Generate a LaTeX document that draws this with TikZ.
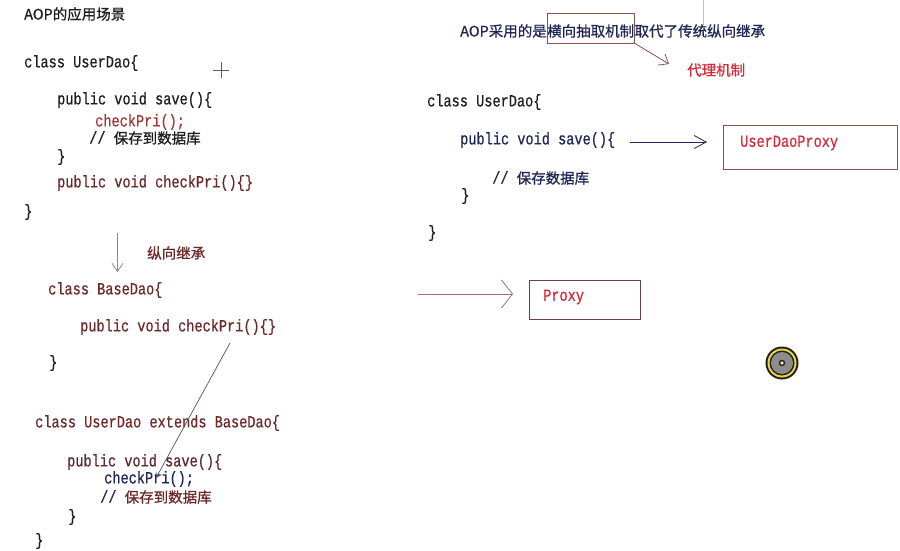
\documentclass[tikz,border=0pt]{standalone}
\usepackage{fontspec}
\setmonofont[FakeStretch=0.8,FakeBold=0.5]{Liberation Mono}
\newfontfamily\cjk[FakeBold=0.8]{Noto Sans CJK SC}
\usetikzlibrary{arrows.meta,fit}
\definecolor{ink}{HTML}{1E1E1E}
\definecolor{navyink}{HTML}{1F2656}
\definecolor{maroon}{HTML}{6E2828}
\definecolor{redbrown}{HTML}{A03838}
\definecolor{brightred}{HTML}{D42A3A}
\definecolor{boxedge}{HTML}{8A5050}
\definecolor{softgray}{HTML}{8A8A8A}
\definecolor{proxyline}{HTML}{A07070}
\definecolor{cursorgray}{HTML}{8C8C8C}
\definecolor{cursoryellow}{HTML}{E8D640}
\newcommand{\cnf}{\cjk\fontsize{14.5}{17}\selectfont}
\begin{document}
\begin{tikzpicture}[x=1pt,y=-1pt,
  code/.style={anchor=west,inner sep=0pt,font=\ttfamily\fontsize{17}{20}\selectfont},
  cn/.style={anchor=west,inner sep=0pt,font=\cnf},
  link/.style={line width=0.8pt}]
\useasboundingbox[fill=white] (0,0) rectangle (900,551);

% ---------- left column ----------
\node[cn,text=ink] (title) at (24,14) {AOP的应用场景};
\node[code,text=ink] (c1) at (24,63) {class UserDao\{};
\node[code,text=ink] (c1save) at (57,100) {public void save()\{};
\node[code,text=redbrown] (c1chk) at (95,122) {checkPri();};
\node[code,text=ink] (c1cmt) at (89,138) {//~{\cnf 保存到数据库}};
\node[code,text=ink] (c1cl) at (57,157) {\}};
\node[code,text=maroon] (c1pri) at (57,183) {public void checkPri()\{\}};
\node[code,text=ink] (c1end) at (24,212) {\}};

\coordinate (dn1) at (117.5,233);
\coordinate (dn2) at (117.5,272);
\draw[link,softgray,-{Straight Barb[length=8pt,width=11pt]}] (dn1) -- (dn2);
\node[cn,text=maroon] (vinh) at (147,253) {纵向继承};

\node[code,text=maroon] (b1) at (48,290) {class BaseDao\{};
\node[code,text=maroon] (b1pri) at (80,327) {public void checkPri()\{\}};
\node[code,text=ink] (b1end) at (49,363) {\}};

\node[code,text=maroon] (u2) at (35,423) {class UserDao extends BaseDao\{};
\node[code,text=maroon!80!navyink] (u2save) at (67,462) {public void save()\{};
\node[code,text=navyink] (u2chk) at (104,479) {checkPri();};
\node[code,text=navyink] (u2cmt) at (100,497) {//~{\cnf\color{maroon}保存到数据库}};
\node[code,text=ink] (u2cl) at (68,517) {\}};
\node[code,text=ink] (u2end) at (35,541) {\}};

\coordinate (dg1) at (230,343);
\coordinate (dg2) at (156,478);
\draw[line width=0.7pt,navyink!80,-{Straight Barb[length=5pt,width=6pt]}] (dg1) -- (dg2);

% cross cursor
\coordinate (cr) at (221,70);
\draw[line width=0.9pt,ink!70] ([xshift=-8pt]cr) -- ([xshift=8pt]cr);
\draw[line width=0.9pt,ink!70] ([yshift=-8pt]cr) -- ([yshift=8pt]cr);

% ---------- right column ----------
\coordinate (cy1) at (703,0);
\coordinate (cy2) at (703,25);
\draw[line width=0.8pt,cyan!50!white] (cy1) -- (cy2);

\node[cn,text=navyink] (t1) at (460,31) {AOP采用的是};
\node[cn,text=navyink] (t2) at (t1.east) {横向抽取机制};
\node[cn,text=navyink] (t3) at (t2.east) {取代了传统纵向继承};
\node[draw=boxedge,line width=0.8pt,inner sep=0pt,fit={(t2.west|-0,13) (t2.east|-0,43)}] (hbox) {};
\coordinate (pa) at (669,64);
\draw[link,boxedge,-{Straight Barb[length=8pt,width=13pt]}] (hbox.south east) -- (pa);
\node[cn,text=brightred] (proxymech) at (687,70) {代理机制};

\node[code,text=ink] (r1) at (427,102) {class UserDao\{};
\node[code,text=navyink] (r1save) at (460,140) {public void save()\{};
\node[code,text=navyink] (r1cmt) at (492,178) {//~{\cnf 保存数据库}};
\node[code,text=ink] (r1cl) at (461,196) {\}};
\node[code,text=ink] (r1end) at (428,233) {\}};

\node[draw=boxedge,line width=0.8pt,inner sep=0pt,fit={(723,125) (897,169)}] (udp) {};
\node[code,text=brightred] (udptext) at (740,143) {UserDaoProxy};
\coordinate (ra1) at (630,142);
\coordinate (ra2) at (707,142);
\draw[link,navyink,-{Straight Barb[length=12pt,width=13pt]}] (ra1) -- (ra2);

\coordinate (pr1) at (418,294);
\coordinate (pr2) at (513,294);
\draw[link,proxyline,-{Straight Barb[length=11pt,width=28pt]}] (pr1) -- (pr2);
\node[draw=boxedge!80!black,line width=0.8pt,inner sep=0pt,fit={(529,280) (640,319)}] (pbox) {};
\node[code,text=brightred] (ptext) at (543,297) {Proxy};

% round cursor
\coordinate (cur) at (782,363);
\fill[ink] (cur) circle (16.5pt);
\fill[cursoryellow] (cur) circle (14.5pt);
\fill[ink] (cur) circle (12.5pt);
\fill[cursorgray] (cur) circle (11pt);
\fill[ink] (cur) circle (3.2pt);
\fill[cursoryellow!60!white] (cur) circle (1.8pt);
\end{tikzpicture}
\end{document}
